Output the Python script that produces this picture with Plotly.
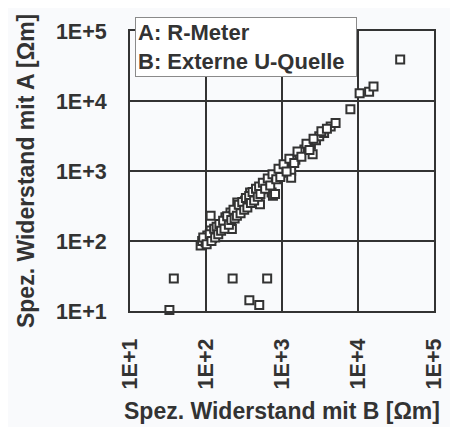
import plotly.graph_objects as go

x_b = [85, 89, 99, 104, 109, 115, 115, 120, 126, 134, 140, 147, 155, 163, 170, 180, 185, 195,
       210, 219, 225, 243, 250, 258, 265, 280, 295, 310, 327, 340, 360, 380, 400, 418, 442,
       470, 513, 537, 580, 620, 690, 730, 760, 780, 810, 870, 920, 980, 1085, 1200, 1320,
       1320, 1390, 1500, 1700, 1970, 2200, 2400, 2530, 2800, 3090, 3580, 4370, 5070, 7940,
       10500, 14000, 16000, 35900,
       92, 102, 112, 118, 128, 132, 138, 145, 150, 158, 168, 175, 190, 200, 215, 230, 238,
       255, 270, 285, 300, 318, 335, 350, 370, 390, 410, 430, 455, 480, 500, 520, 560, 600,
       650, 700, 750, 840, 900, 950, 1050, 1150, 1250, 1450, 1600, 1800, 2100, 2300, 2600,
       3300, 3900,
       37.7, 33, 224, 638, 372, 502]
y_a = [86, 100, 96, 120, 100, 141, 230, 110, 118, 126, 135, 148, 160, 175, 165, 218, 190, 200,
       256, 148, 230, 270, 250, 355, 290, 300, 318, 330, 376, 350, 400, 492, 420, 417, 468,
       520, 335, 550, 600, 640, 646, 492, 442, 800, 470, 877, 900, 946, 1115, 1150, 1000,
       803, 1390, 1450, 1730, 2030, 2100, 2390, 1730, 2750, 3130, 3490, 4340, 4840, 7650,
       12900, 13600, 16100, 39200,
       112, 90, 125, 100, 150, 112, 160, 125, 175, 140, 195, 150, 225, 170, 200, 280, 210,
       230, 330, 250, 360, 280, 410, 300, 440, 350, 500, 380, 560, 430, 600, 470, 680, 560,
       780, 620, 900, 760, 1080, 820, 1250, 980, 1500, 1300, 1900, 1600, 2450, 2000, 2900,
       3700, 4000,
       29.1, 10.3, 29.1, 29.1, 14.3, 12.2]

tick_vals = [10, 100, 1000, 10000, 100000]
tick_text = ["1E+1", "1E+2", "1E+3", "1E+4", "1E+5"]

x_title = "Spez. Widerstand mit B [Ωm]"
y_title = "Spez. Widerstand mit A [Ωm]"
legend_lines = ["A: R-Meter", "B: Externe U-Quelle"]

ink = "#333333"
bg = "#f9fafc"
FONT = "Liberation Sans"

fig = go.Figure()
fig.add_trace(go.Scatter(
    x=x_b, y=y_a, mode="markers", cliponaxis=False,
    marker=dict(symbol="square", size=8, color="white",
                line=dict(color=ink, width=2)),
    showlegend=False, hoverinfo="skip"))

axis_common = dict(
    type="log", range=[1, 5], tickvals=tick_vals, ticktext=tick_text,
    showgrid=True, gridcolor=ink, gridwidth=2,
    showline=True, linecolor=ink, linewidth=2, mirror=True,
    ticks="outside", ticklen=17, tickcolor="rgba(0,0,0,0)",
    tickfont=dict(family=FONT, size=21.5, color=ink, weight="bold"),
    zeroline=False,
)

fig.update_xaxes(**axis_common, tickangle=-90)
fig.update_yaxes(**axis_common)

fig.add_annotation(
    xref="paper", yref="paper", x=0.016, y=1.05, xanchor="left", yanchor="top",
    text="<br>".join(legend_lines), align="left", showarrow=False, width=216,
    font=dict(family=FONT, size=22, color=ink, weight="bold"),
    bgcolor="white", bordercolor="#8a8a8a", borderwidth=1, borderpad=2)

fig.add_annotation(
    xref="paper", yref="paper", x=0.5, y=-0.41, xanchor="center", yanchor="bottom",
    text=x_title, showarrow=False,
    font=dict(family=FONT, size=23, color=ink, weight="bold"))

fig.add_annotation(
    xref="paper", yref="paper", x=-0.342, y=0.5, xanchor="center", yanchor="middle",
    text=y_title, showarrow=False, textangle=-90,
    font=dict(family=FONT, size=23, color=ink, weight="bold"))

# page body has an 8px margin, so the figure is sized/offset to match the window
fig.update_layout(
    width=450, height=419,
    margin=dict(l=122, r=20, t=21, b=116),
    paper_bgcolor=bg, plot_bgcolor=bg,
)

fig.write_html("out.html")
